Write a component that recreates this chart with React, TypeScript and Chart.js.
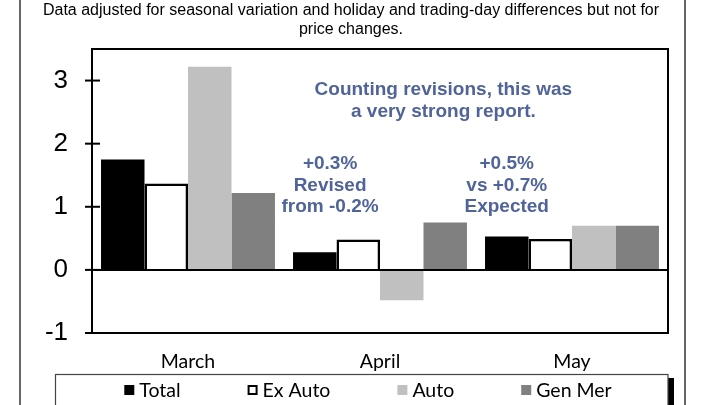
import React, { useEffect, useRef } from "react";
import { Chart, registerables } from "chart.js";

Chart.register(...registerables);

const categories = ["March", "April", "May"];
const seriesLabels = ["Total", "Ex Auto", "Auto", "Gen Mer"];
const totalValues = [1.75, 0.28, 0.53];
const exAutoValues = [1.37, 0.48, 0.49];
const autoValues = [3.22, -0.48, 0.7];
const genMerValues = [1.22, 0.75, 0.7];
const subtitleLines = [
  "Data adjusted for seasonal variation and holiday and trading-day differences but not for",
  "price changes.",
];
// annotation anchors: category index position, value, lines
const annotationX = [1.33, 0.74, 1.66];
const annotationY = [2.85, 1.68, 1.68];
const annotationText = [
  ["Counting revisions, this was", "a very strong report."],
  ["+0.3%", "Revised", "from -0.2%"],
  ["+0.5%", "vs +0.7%", "Expected"],
];

const ANNOT_COLOR = "#50649a";

const framePlugin = {
  id: "framePlugin",
  afterDraw(chart: any) {
    const { ctx, chartArea } = chart;
    const ys = chart.scales.y;
    const xs = chart.scales.x;
    ctx.save();
    // outer frame vertical lines
    ctx.strokeStyle = "#666";
    ctx.lineWidth = 2;
    ctx.beginPath();
    ctx.moveTo(20, 0);
    ctx.lineTo(20, 405);
    ctx.moveTo(685, 0);
    ctx.lineTo(685, 405);
    ctx.stroke();

    // subtitle
    ctx.fillStyle = "#000";
    ctx.font = "16px 'Liberation Sans', Arial, sans-serif";
    ctx.textAlign = "center";
    ctx.textBaseline = "middle";
    subtitleLines.forEach((ln, j) => ctx.fillText(ln, 351, 11 + j * 19));

    // plot box
    ctx.strokeStyle = "#000";
    ctx.lineWidth = 2;
    ctx.strokeRect(chartArea.left, chartArea.top, chartArea.right - chartArea.left, chartArea.bottom - chartArea.top);
    // zero line
    const y0 = ys.getPixelForValue(0);
    ctx.beginPath();
    ctx.moveTo(chartArea.left, y0);
    ctx.lineTo(chartArea.right, y0);
    ctx.stroke();
    // tick marks crossing axis
    ys.ticks.forEach((t: any) => {
      const py = ys.getPixelForValue(t.value);
      ctx.beginPath();
      ctx.moveTo(chartArea.left - 7, py);
      ctx.lineTo(chartArea.left + 8, py);
      ctx.stroke();
    });

    // annotations
    ctx.fillStyle = ANNOT_COLOR;
    ctx.font = "bold 19px 'Liberation Sans', Arial, sans-serif";
    ctx.textAlign = "center";
    ctx.textBaseline = "middle";
    annotationText.forEach((lines, i) => {
      const cx = xs.getPixelForValue(annotationX[i]);
      const cy = ys.getPixelForValue(annotationY[i]);
      const lh = i === 0 ? 22 : 21.5;
      lines.forEach((ln, j) => ctx.fillText(ln, cx, cy + j * lh));
    });

    // legend box
    ctx.fillStyle = "#000";
    ctx.fillRect(668, 378, 6, 30);
    ctx.fillStyle = "#fff";
    ctx.fillRect(55, 374, 613, 40);
    ctx.strokeStyle = "#444";
    ctx.lineWidth = 1.2;
    ctx.strokeRect(55.5, 374.5, 612.5, 40);

    // legend items
    ctx.font = "19.5px Lato, 'Open Sans', sans-serif";
    ctx.textAlign = "left";
    ctx.textBaseline = "middle";
    const box = 10;
    const gap = 5;
    const pad = 67;
    const ds = chart.data.datasets;
    const widths = ds.map((d: any) => box + gap + ctx.measureText(d.label).width);
    const total = widths.reduce((a: number, b: number) => a + b, 0) + pad * (ds.length - 1);
    let x = 368 - total / 2;
    const ly = 390;
    ds.forEach((d: any, i: number) => {
      ctx.fillStyle = d.backgroundColor;
      ctx.fillRect(x, ly - box / 2, box, box);
      if (d.borderWidth) {
        ctx.strokeStyle = d.borderColor;
        ctx.lineWidth = 2;
        ctx.strokeRect(x + 1, ly - box / 2 + 1, box - 2, box - 2);
      }
      ctx.fillStyle = "#000";
      ctx.fillText(d.label, x + box + gap, ly + 1);
      x += widths[i] + pad;
    });
    ctx.restore();
  },
};

export default function App() {
  const ref = useRef<HTMLCanvasElement>(null);
  useEffect(() => {
    if (!ref.current) return;
    const chart = new Chart(ref.current, {
      type: "bar",
      data: {
        labels: categories,
        datasets: [
          { label: seriesLabels[0], data: totalValues, backgroundColor: "#000000", borderWidth: 0 },
          { label: seriesLabels[1], data: exAutoValues, backgroundColor: "#ffffff", borderColor: "#000000", borderWidth: 2.5 },
          { label: seriesLabels[2], data: autoValues, backgroundColor: "#c0c0c0", borderWidth: 0 },
          { label: seriesLabels[3], data: genMerValues, backgroundColor: "#808080", borderWidth: 0 },
        ],
      },
      options: {
        animation: false,
        responsive: false,
        maintainAspectRatio: false,
        layout: { padding: { left: 0, right: 52, top: 49, bottom: 0 } },
        datasets: { bar: { categoryPercentage: 0.906, barPercentage: 1.0 } },
        plugins: {
          legend: { display: false },
          tooltip: { enabled: false },
          title: { display: false },
        },
        scales: {
          x: {
            grid: { display: false, drawTicks: false },
            border: { display: false },
            ticks: { color: "#000", padding: 17, font: { family: "Lato, 'Open Sans', sans-serif", size: 19.5 } },
            afterFit: (s: any) => { s.height = 72; },
          },
          y: {
            min: -1,
            max: 3.5,
            grid: { display: false, drawTicks: false },
            border: { display: false },
            ticks: {
              stepSize: 1,
              includeBounds: false,
              color: "#000",
              padding: 24,
              font: { family: "'Liberation Sans', Arial, sans-serif", size: 26 },
            },
            afterFit: (s: any) => { s.width = 92; },
          },
        },
      },
      plugins: [framePlugin],
    });
    return () => chart.destroy();
  }, []);
  return (
    <div style={{ position: "fixed", left: 0, top: 0, width: 720, height: 405, background: "#fff" }}>
      <canvas ref={ref} width={720} height={405} style={{ width: 720, height: 405 }} />
    </div>
  );
}
